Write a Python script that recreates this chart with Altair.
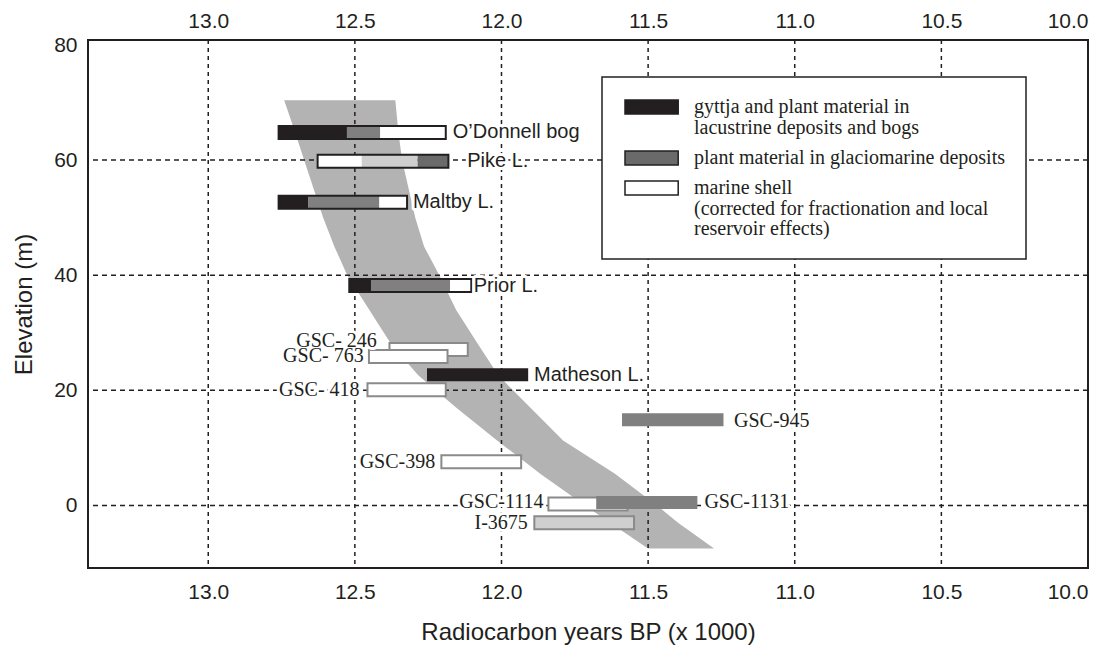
import altair as alt
import pandas as pd

# ---------------- data ----------------
x_ticks = [13.0, 12.5, 12.0, 11.5, 11.0, 10.5, 10.0]
y_ticks = [0, 20, 40, 60, 80]
x_grid = [13.0, 12.5, 12.0, 11.5, 11.0, 10.5]
y_grid = [0, 20, 40, 60]

# grey envelope (elevation, left/right radiocarbon ages)
band_elev = [70.4, 65, 60, 50, 45, 40, 34, 28, 22.6, 17, 11.3, 5.5, 0, -3, -7.5]
band_left = [12.741, 12.705, 12.673, 12.608, 12.570, 12.526, 12.451, 12.376, 12.284,
             12.155, 12.015, 11.868, 11.715, 11.630, 11.500]
band_right = [12.362, 12.352, 12.339, 12.294, 12.264, 12.212, 12.155, 12.080, 12.011,
              11.902, 11.790, 11.613, 11.470, 11.398, 11.275]

# bar segments, in drawing order
seg_name = ["O'Donnell bog"] * 4 + ["Pike L."] * 4 + ["Maltby L."] * 4 + ["Prior L."] * 4 + [
    "GSC- 246", "GSC- 763", "Matheson L.", "GSC- 418", "GSC-945", "GSC-398",
    "GSC-1114", "GSC-1131", "I-3675"]
seg_elev = [64.8] * 4 + [59.8] * 4 + [52.7] * 4 + [38.2] * 4 + [
    27.1, 25.9, 22.7, 20.1, 14.9, 7.6, 0.26, 0.5, -3.0]
seg_start = [12.76, 12.527, 12.414, 12.76,
             12.627, 12.476, 12.286, 12.627,
             12.76, 12.658, 12.417, 12.76,
             12.519, 12.445, 12.175, 12.519,
             12.382, 12.452, 12.254, 12.457, 11.589, 12.205, 11.840, 11.677, 11.888]
seg_end = [12.527, 12.414, 12.19, 12.19,
           12.476, 12.286, 12.181, 12.181,
           12.658, 12.417, 12.322, 12.322,
           12.445, 12.175, 12.103, 12.103,
           12.115, 12.184, 11.909, 12.19, 11.243, 11.933, 11.570, 11.332, 11.548]
seg_kind = ["gyttja", "mixed", "shell", "none",
            "shell", "stipple", "glacio", "none",
            "gyttja", "mixed", "shell", "none",
            "gyttja", "mixed", "shell", "none",
            "shell", "shell", "gyttja", "shell", "mixed", "shell", "shell", "mixed", "stipple"]
seg_edge = ["n", "n", "n", "k",
            "n", "n", "n", "k",
            "n", "n", "n", "k",
            "n", "n", "n", "k",
            "g", "g", "n", "g", "n", "g", "g", "n", "g"]

# site labels
sans_text = ["O\u2019Donnell bog", "Pike L.", "Maltby L.", "Prior L.", "Matheson L."]
sans_x = [12.166, 12.117, 12.302, 12.095, 11.889]
sans_y = [64.8, 59.8, 52.7, 38.2, 22.7]

serif_r_text = ["GSC- 246", "GSC- 763", "GSC- 418", "GSC-398", "GSC-1114", "I-3675"]
serif_r_x = [12.425, 12.470, 12.484, 12.226, 11.857, 11.910]
serif_r_y = [28.6, 25.9, 20.0, 7.6, 0.6, -3.1]

serif_l_text = ["GSC-1131", "GSC-945"]
serif_l_x = [11.308, 11.207]
serif_l_y = [0.6, 14.7]

# legend
legend_keys = ["gyttja", "glacio", "shell"]
legend_lines = [
    ["gyttja and plant material in", "lacustrine deposits and bogs"],
    ["plant material in glaciomarine deposits"],
    ["marine shell", "(corrected for fractionation and local", "reservoir effects)"],
]

kind_domain = ["gyttja", "glacio", "shell", "mixed", "stipple", "none"]
kind_range = ["#231f20", "#6a6a6a", "#ffffff", "#808080", "#cfcfcf", "transparent"]
edge_domain = ["k", "g", "n"]
edge_range = ["#231f20", "#8a8a8a", "transparent"]

# ---------------- tables ----------------
band_df = pd.DataFrame({"elev": band_elev, "left": band_left, "right": band_right})
seg_df = pd.DataFrame({"name": seg_name, "elev": seg_elev, "start": seg_start,
                       "end": seg_end, "kind": seg_kind, "edge": seg_edge,
                       "order": list(range(len(seg_name)))})
xgrid_df = pd.DataFrame({"x": x_grid})
ygrid_df = pd.DataFrame({"y": y_grid})
sans_df = pd.DataFrame({"t": sans_text, "x": sans_x, "y": sans_y})
serif_r_df = pd.DataFrame({"t": serif_r_text, "x": serif_r_x, "y": serif_r_y})
serif_l_df = pd.DataFrame({"t": serif_l_text, "x": serif_l_x, "y": serif_l_y})

INK = "#231f20"
xs = alt.Scale(domain=[10.0, 13.41], reverse=True, nice=False, zero=False)
ys = alt.Scale(domain=[-10, 80], nice=False, zero=False)


def js_list(lines):
    return "[" + ",".join("'" + s.replace("'", "\\'") + "'" for s in lines) + "]"


label_expr = ""
for k, lines in zip(legend_keys[:-1], legend_lines[:-1]):
    label_expr += "datum.value == '%s' ? %s : " % (k, js_list(lines))
label_expr += js_list(legend_lines[-1])

bottom_axis = alt.Axis(orient="bottom", values=x_ticks, format=".1f", grid=False,
                       ticks=False, domain=False, labelFont="Liberation Sans",
                       labelFontSize=21, labelColor=INK, labelPadding=13,
                       title="Radiocarbon years BP (x 1000)", titleFont="Liberation Sans",
                       titleFontSize=24, titleFontWeight="normal", titleColor=INK,
                       titlePadding=18)
top_axis = alt.Axis(orient="top", values=x_ticks, format=".1f", grid=False,
                    ticks=False, domain=False, labelFont="Liberation Sans",
                    labelFontSize=21, labelColor=INK, labelPadding=9, title=None)
left_axis = alt.Axis(orient="left", values=y_ticks, grid=False, ticks=False, domain=False,
                     labelFont="Liberation Sans", labelFontSize=21, labelColor=INK,
                     labelPadding=11, title="Elevation (m)", titleFont="Liberation Sans",
                     titleFontSize=24, titleFontWeight="normal", titleColor=INK,
                     titlePadding=17)

band = alt.Chart(band_df).mark_area(orient="horizontal", color="#b3b3b3").encode(
    y=alt.Y("elev:Q", scale=ys, axis=left_axis),
    x=alt.X("left:Q", scale=xs, axis=bottom_axis),
    x2="right:Q",
)

vgrid = alt.Chart(xgrid_df).mark_rule(color=INK, strokeWidth=1.5, strokeDash=[4, 4]).encode(
    x=alt.X("x:Q", scale=xs, axis=top_axis)
)
hgrid = alt.Chart(ygrid_df).mark_rule(color=INK, strokeWidth=1.5, strokeDash=[5, 4]).encode(
    y=alt.Y("y:Q", scale=ys, axis=None)
)

bars = alt.Chart(seg_df).mark_bar(orient="horizontal", size=13, strokeWidth=2).encode(
    y=alt.Y("elev:Q", scale=ys, axis=None),
    x=alt.X("start:Q", scale=xs, axis=None),
    x2="end:Q",
    fill=alt.Fill("kind:N", scale=alt.Scale(domain=kind_domain, range=kind_range),
                  legend=alt.Legend(values=legend_keys, title=None, orient="none",
                                    legendX=514, legendY=37, padding=20,
                                    fillColor="white", strokeColor=INK,
                                    symbolType="M-1,-1H6.6V1H-1Z", symbolSize=196,
                                    symbolStrokeColor=INK, symbolStrokeWidth=1.5,
                                    symbolOpacity=1, labelFont="Liberation Serif",
                                    labelFontSize=20, labelColor=INK, labelLimit=0,
                                    labelOffset=52, rowPadding=10,
                                    labelExpr=label_expr)),
    stroke=alt.Stroke("edge:N", scale=alt.Scale(domain=edge_domain, range=edge_range),
                      legend=None),
    order=alt.Order("order:Q"),
)


def labels(df, align, font):
    base = alt.Chart(df).encode(
        x=alt.X("x:Q", scale=xs, axis=None),
        y=alt.Y("y:Q", scale=ys, axis=None),
        text="t:N",
    )
    halo = base.mark_text(align=align, baseline="middle", font=font, fontSize=20,
                          color="white", stroke="white", strokeWidth=6,
                          strokeJoin="round")
    ink = base.mark_text(align=align, baseline="middle", font=font, fontSize=20, color=INK)
    return [halo, ink]


text_layers = (labels(sans_df, "left", "Liberation Sans")
               + labels(serif_r_df, "right", "Liberation Serif")
               + labels(serif_l_df, "left", "Liberation Serif"))

chart = alt.layer(band, vgrid, hgrid, bars, *text_layers).resolve_axis(
    x="independent", y="independent"
).properties(
    width=1000, height=528,
    autosize=alt.AutoSizeParams(type="none"),
    padding={"left": 88, "top": 40, "right": 14, "bottom": 80},
    background="white",
).configure(
    style={"guide-label": {"lineHeight": 20.5}}
).configure_view(
    stroke=INK, strokeWidth=2
).configure_legend(
    strokeWidth=1.5
)

chart.save("out.html", embed_options={"renderer": "svg", "actions": False})
